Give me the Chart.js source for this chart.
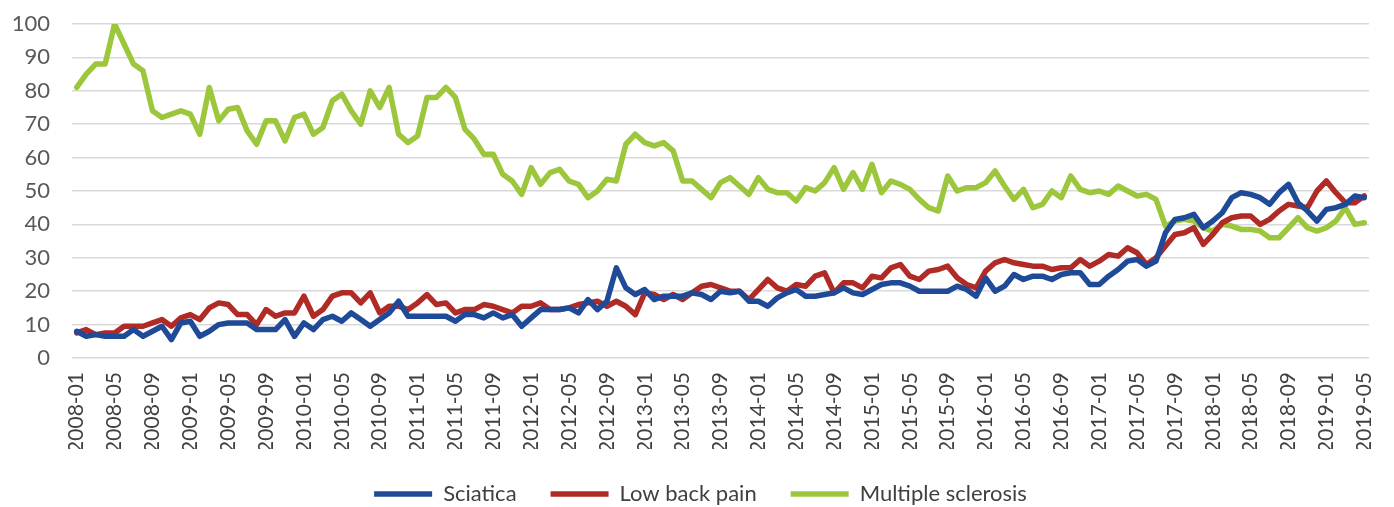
<!DOCTYPE html>
<html>
<head>
<meta charset="utf-8">
<title>Sciatica / Low back pain / Multiple sclerosis</title>
<script src="https://cdn.jsdelivr.net/npm/chart.js@4.4.1/dist/chart.umd.min.js"></script>
<style>
  html, body { margin: 0; padding: 0; background: #fff; }
  #wrap { width: 1394px; height: 507px; position: relative; }
</style>
</head>
<body>
<div id="wrap"><canvas id="chart"></canvas></div>
<script>
// ── Data ──────────────────────────────────────────────────────
// months 2008-01 .. 2019-05
const months = [];
for (let y = 2008; y <= 2019; y++) {
  for (let m = 1; m <= 12; m++) {
    if (y === 2019 && m > 5) break;
    months.push(y + '-' + String(m).padStart(2, '0'));
  }
}

const sciatica = [
  8, 6.5, 7, 6.5, 6.5, 6.5, 8.5, 6.5, 8, 9.5, 5.5, 10.5,
  11, 6.5, 8, 10, 10.5, 10.5, 10.5, 8.5, 8.5, 8.5, 11.5, 6.5,
  10.5, 8.5, 11.5, 12.5, 11, 13.5, 11.5, 9.5, 11.5, 13.5, 17, 12.5,
  12.5, 12.5, 12.5, 12.5, 11, 13, 13, 12, 13.5, 12, 13, 9.5,
  12, 14.5, 14.5, 14.5, 15, 13.5, 17.5, 14.5, 17, 27, 21, 19,
  20.5, 17.5, 18.5, 18.5, 18.5, 19.5, 19, 17.5, 20, 19.5, 20, 17,
  17, 15.5, 18, 19.5, 20.5, 18.5, 18.5, 19, 19.5, 21, 19.5, 19,
  20.5, 22, 22.5, 22.5, 21.5, 20, 20, 20, 20, 21.5, 20.5, 18.5,
  24, 20, 21.5, 25, 23.5, 24.5, 24.5, 23.5, 25, 25.5, 25.5, 22,
  22, 24.5, 26.5, 29, 29.5, 27.5, 29, 37.5, 41.5, 42, 43, 39,
  41, 43.5, 48, 49.5, 49, 48, 46, 49.5, 52, 46.5, 44, 41,
  44.5, 45, 46, 48.5, 48
];

const lowBackPain = [
  7.5, 8.5, 7, 7.5, 7.5, 9.5, 9.5, 9.5, 10.5, 11.5, 9.5, 12,
  13, 11.5, 15, 16.5, 16, 13, 13, 10, 14.5, 12.5, 13.5, 13.5,
  18.5, 12.5, 14.5, 18.5, 19.5, 19.5, 16.5, 19.5, 13.5, 15.5, 15.5, 14.5,
  16.5, 19, 16, 16.5, 13.5, 14.5, 14.5, 16, 15.5, 14.5, 13.5, 15.5,
  15.5, 16.5, 14.5, 14.5, 15, 16, 16.5, 17, 15.5, 17, 15.5, 13,
  19.5, 19, 17.5, 19, 17.5, 19.5, 21.5, 22, 21, 20, 20, 17.5,
  20.5, 23.5, 21, 20, 22, 21.5, 24.5, 25.5, 19.5, 22.5, 22.5, 21,
  24.5, 24, 27, 28, 24.5, 23.5, 26, 26.5, 27.5, 24, 22, 21,
  26, 28.5, 29.5, 28.5, 28, 27.5, 27.5, 26.5, 27, 27, 29.5, 27.5,
  29, 31, 30.5, 33, 31.5, 28, 30, 33.5, 37, 37.5, 39, 34,
  37, 40.5, 42, 42.5, 42.5, 40, 41.5, 44, 46, 45.5, 45, 50,
  53, 49.5, 46.5, 46.5, 48.5
];

const multipleSclerosis = [
  81, 85, 88, 88, 100, 94, 88, 86, 74, 72, 73, 74,
  73, 67, 81, 71, 74.5, 75, 68, 64, 71, 71, 65, 72,
  73, 67, 69, 77, 79, 74, 70, 80, 75, 81, 67, 64.5,
  66.5, 78, 78, 81, 78, 68.5, 65.5, 61, 61, 55, 53, 49,
  57, 52, 55.5, 56.5, 53, 52, 48, 50, 53.5, 53, 64, 67,
  64.5, 63.5, 64.5, 62, 53, 53, 50.5, 48, 52.5, 54, 51.5, 49,
  54, 50.5, 49.5, 49.5, 47, 51, 50, 52.5, 57, 50.5, 55.5, 50.5,
  58, 49.5, 53, 52, 50.5, 47.5, 45, 44, 54.5, 50, 51, 51,
  52.5, 56, 51.5, 47.5, 50.5, 45, 46, 50, 48, 54.5, 50.5, 49.5,
  50, 49, 51.5, 50, 48.5, 49, 47.5, 39.5, 41, 41.5, 41, 39,
  38, 40, 39.5, 38.5, 38.5, 38, 36, 36, 39, 42, 39, 38,
  39, 41, 45, 40, 40.5
];

const yTicks = [0, 10, 20, 30, 40, 50, 60, 70, 80, 90, 100];

// ── Style ─────────────────────────────────────────────────────
const FONT = 'Lato, "Open Sans", sans-serif';
const gridColor = '#d9d9d9';

function lineSet(label, data, color) {
  return {
    label, data,
    borderColor: color,
    backgroundColor: color,
    borderWidth: 5.5,
    borderCapStyle: 'round',
    borderJoinStyle: 'round',
    pointRadius: 0,
    pointHoverRadius: 0,
    tension: 0,
    fill: false
  };
}

// nudge the legend so it sits centred under the whole page, like the original
const legendShift = {
  id: 'legendShift',
  afterLayout(chart) {
    if (chart.legend) { chart.legend.left += 16; chart.legend.right += 16; }
  }
};

// ── Chart ─────────────────────────────────────────────────────
new Chart(document.getElementById('chart'), {
  type: 'line',
  data: {
    labels: months,
    datasets: [
      lineSet('Sciatica', sciatica, '#1f4a98'),
      lineSet('Low back pain', lowBackPain, '#b02a26'),
      lineSet('Multiple sclerosis', multipleSclerosis, '#9cc73c')
    ]
  },
  plugins: [legendShift],
  options: {
    responsive: true,
    maintainAspectRatio: false,
    animation: false,
    layout: { padding: { left: 0, right: 25, top: 24, bottom: -8 } },
    plugins: {
      tooltip: { enabled: false },
      legend: {
        position: 'bottom',
        labels: {
          usePointStyle: true,
          pointStyle: 'line',
          pointStyleWidth: 58,
          padding: 34,
          color: '#404040',
          font: { family: FONT, size: 22 }
        }
      }
    },
    scales: {
      x: {
        offset: true,
        grid: { display: false },
        border: { display: false },
        afterFit: (axis) => { axis.height = 91; axis.paddingLeft = 0; axis.paddingRight = 0; },
        ticks: {
          autoSkip: false,
          minRotation: 90,
          maxRotation: 90,
          padding: 6,
          color: '#404040',
          font: { family: FONT, size: 21 },
          callback: (v, i) => (i % 4 === 0 ? months[i] : '')
        }
      },
      y: {
        min: 0,
        max: 100,
        afterBuildTicks: (axis) => { axis.ticks = yTicks.map(v => ({ value: v })); },
        afterFit: (axis) => { axis.width = 72; axis.paddingTop = 0; axis.paddingBottom = 0; },
        grid: { color: gridColor, lineWidth: 1.5, drawTicks: false },
        border: { display: false },
        ticks: {
          padding: 22,
          color: '#595959',
          font: { family: FONT, size: 22 }
        }
      }
    }
  }
});
</script>
</body>
</html>
